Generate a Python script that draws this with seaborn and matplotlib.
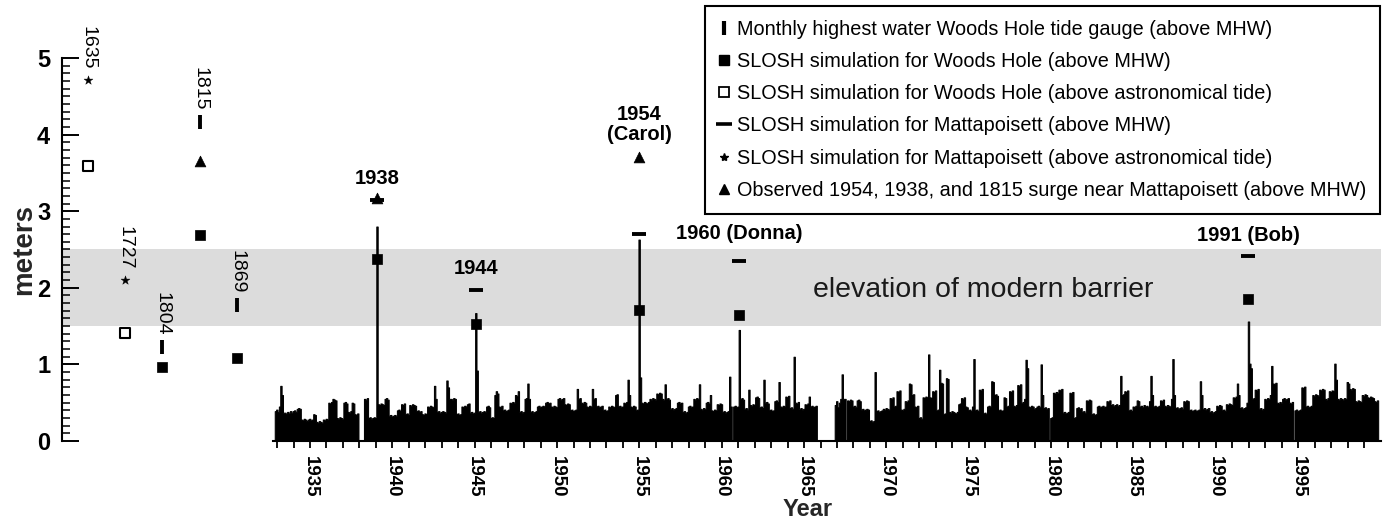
import numpy as np
import pandas as pd
import matplotlib
matplotlib.use("Agg")
import matplotlib.pyplot as plt
from matplotlib.lines import Line2D
from matplotlib.ticker import MultipleLocator, FixedLocator
import seaborn as sns

# ---------------- data ----------------
# Monthly highest water, Woods Hole tide gauge (m above MHW); 0 = missing month
# Jul 1932 - Dec 1939
hw_1930s = [0.39, 0.41, 0.38, 0.45, 0.72, 0.60, 0.37,
            0.37, 0.35, 0.38, 0.36, 0.39, 0.37,
            0.39, 0.40, 0.38, 0.42, 0.43, 0.42,
            0.28, 0.27, 0.29, 0.28, 0.26, 0.28, 0.29, 0.27, 0.28,
            0.35, 0.34, 0.25, 0.24, 0.26, 0.25, 0.24,
            0.28, 0.27, 0.29, 0.28, 0.50, 0.49, 0.51, 0.55, 0.54, 0.53,
            0.30, 0.29, 0.31, 0.30, 0.29, 0.50, 0.51, 0.49,
            0.38, 0.37, 0.39, 0.50, 0.49, 0.35, 0.34, 0.36,
            0.00, 0.00, 0.00, 0.00, 0.55, 0.54, 0.56,
            0.30, 0.31, 0.29, 0.30, 0.31, 0.30, 2.80,
            0.48, 0.47, 0.49, 0.48, 0.47, 0.55, 0.56, 0.54,
            0.33, 0.34, 0.32, 0.33, 0.34, 0.33, 0.40]
hw_1940s = [0.41, 0.39, 0.48, 0.47, 0.49, 0.35, 0.36, 0.34,
            0.47, 0.46, 0.48, 0.47, 0.46, 0.39, 0.40, 0.38, 0.39,
            0.35, 0.34, 0.36, 0.35, 0.45, 0.44, 0.46, 0.45, 0.44,
            0.72, 0.55, 0.38, 0.39, 0.37, 0.38, 0.39, 0.38, 0.37,
            0.79, 0.70, 0.55, 0.55, 0.54, 0.56, 0.55,
            0.35, 0.36, 0.34, 0.35, 0.45, 0.44, 0.46, 0.45,
            0.48, 0.49, 0.37, 0.38, 0.36, 0.37, 1.67, 0.92,
            0.38, 0.39, 0.37, 0.38, 0.39, 0.38, 0.45, 0.46, 0.44,
            0.30, 0.31, 0.30, 0.60, 0.65, 0.62, 0.45, 0.44, 0.46,
            0.40, 0.41, 0.39, 0.40, 0.41, 0.50, 0.49, 0.51, 0.50,
            0.60, 0.59, 0.65, 0.38, 0.39, 0.37, 0.38,
            0.55, 0.56, 0.75, 0.55, 0.38, 0.39, 0.37, 0.38, 0.39,
            0.45, 0.46, 0.44, 0.45, 0.46, 0.45, 0.50, 0.51, 0.49, 0.50,
            0.45, 0.44, 0.46, 0.45, 0.44, 0.55, 0.56, 0.54, 0.55]
hw_1950s = [0.56, 0.48, 0.47, 0.49, 0.48, 0.40, 0.41, 0.39, 0.40, 0.41,
            0.68, 0.55, 0.56, 0.50, 0.49, 0.51, 0.50, 0.45, 0.44, 0.46, 0.45,
            0.68, 0.55, 0.56, 0.45, 0.46, 0.44, 0.45, 0.46,
            0.40, 0.41, 0.39, 0.40, 0.45, 0.44, 0.46, 0.45, 0.44,
            0.60, 0.61, 0.45, 0.46, 0.44, 0.45, 0.50, 0.49, 0.51,
            0.80, 0.60, 0.45, 0.44, 0.46, 0.45, 0.40, 0.41, 2.63, 0.83,
            0.50, 0.49, 0.51, 0.50, 0.49, 0.51, 0.55, 0.54, 0.56, 0.55, 0.54,
            0.62, 0.61, 0.63, 0.62, 0.55, 0.54, 0.74, 0.55, 0.56, 0.54,
            0.42, 0.43, 0.41, 0.42, 0.43, 0.50, 0.51, 0.49, 0.50,
            0.38, 0.39, 0.37, 0.38, 0.45, 0.46, 0.44, 0.45,
            0.55, 0.54, 0.56, 0.55, 0.74, 0.42, 0.41, 0.43, 0.42,
            0.50, 0.51, 0.49, 0.60, 0.40, 0.39, 0.41, 0.40,
            0.48, 0.47, 0.49, 0.48, 0.38, 0.39, 0.37, 0.38]
hw_1960s = [0.39, 0.84, 0.45, 0.00, 0.45, 0.46, 0.44, 0.45, 1.45,
            0.55, 0.56, 0.54, 0.42, 0.43, 0.41, 0.67, 0.47, 0.46, 0.48, 0.47,
            0.57, 0.58, 0.56, 0.44, 0.45, 0.43, 0.80, 0.50, 0.51, 0.49,
            0.40, 0.41, 0.39, 0.40, 0.52, 0.53, 0.51, 0.77, 0.45, 0.44, 0.46, 0.45,
            0.58, 0.57, 0.59, 0.43, 0.44, 0.42, 1.10, 0.50, 0.49, 0.51,
            0.42, 0.43, 0.41, 0.42, 0.48, 0.47, 0.49, 0.58,
            0.45, 0.46, 0.44, 0.45, 0.46,
            0.00, 0.00, 0.00, 0.00, 0.00, 0.00, 0.00, 0.00, 0.00, 0.00, 0.00, 0.00, 0.00,
            0.47, 0.52, 0.44, 0.50, 0.55, 0.87, 0.55, 0.55, 0.00,
            0.53, 0.52, 0.54, 0.53, 0.45, 0.46, 0.44, 0.53, 0.54, 0.52,
            0.41, 0.42, 0.40, 0.41, 0.42, 0.41, 0.26, 0.27, 0.25, 0.26, 0.90,
            0.39, 0.40, 0.38, 0.39, 0.40, 0.42, 0.41, 0.43, 0.42, 0.41, 0.56, 0.55]
hw_1970s = [0.57, 0.45, 0.46, 0.65, 0.64, 0.66, 0.41, 0.40, 0.42, 0.52, 0.51, 0.53,
            0.75, 0.74, 0.60, 0.61, 0.45, 0.44, 0.46, 0.30, 0.31, 0.29,
            0.57, 0.56, 0.58, 0.57, 1.13, 0.57, 0.56, 0.65, 0.64, 0.66, 0.40, 0.41,
            0.93, 0.76, 0.75, 0.35, 0.36, 0.82, 0.81, 0.38, 0.37, 0.39, 0.38,
            0.37, 0.36, 0.38, 0.48, 0.49, 0.56, 0.55, 0.57, 0.45, 0.44,
            0.40, 0.41, 0.39, 0.45, 1.07, 0.40, 0.41, 0.39, 0.67, 0.66, 0.68,
            0.36, 0.37, 0.35, 0.45, 0.46, 0.44, 0.78, 0.77, 0.60, 0.61, 0.59,
            0.40, 0.41, 0.39, 0.40, 0.57, 0.56, 0.45, 0.46, 0.65, 0.64, 0.66,
            0.46, 0.45, 0.47, 0.73, 0.72, 0.74, 0.50, 0.51, 0.55, 1.06, 0.95,
            0.45, 0.44, 0.46, 0.45, 0.42, 0.43, 0.45, 0.46, 0.44, 1.00, 0.60,
            0.43, 0.44, 0.42, 0.43, 0.00, 0.30, 0.31, 0.63, 0.62, 0.64]
hw_1980s = [0.63, 0.67, 0.66, 0.68, 0.37, 0.38, 0.36, 0.37, 0.38, 0.63, 0.62, 0.64,
            0.30, 0.31, 0.43, 0.44, 0.42, 0.43, 0.38, 0.39, 0.37,
            0.53, 0.52, 0.54, 0.53, 0.35, 0.36, 0.34, 0.35,
            0.45, 0.46, 0.44, 0.45, 0.46, 0.44, 0.45, 0.52, 0.51, 0.53,
            0.47, 0.48, 0.46, 0.47, 0.48, 0.46, 0.47, 0.85, 0.60, 0.61,
            0.65, 0.64, 0.66, 0.40, 0.41, 0.39, 0.45, 0.44, 0.46, 0.53, 0.52,
            0.45, 0.46, 0.44, 0.47, 0.45, 0.46, 0.44, 0.52, 0.85, 0.60,
            0.45, 0.46, 0.44, 0.45, 0.46, 0.53, 0.52, 0.54,
            0.46, 0.45, 0.47, 0.46, 0.45, 0.55, 1.07, 0.60,
            0.43, 0.44, 0.42, 0.43, 0.44, 0.42, 0.52, 0.51, 0.53, 0.52,
            0.40, 0.41, 0.39, 0.40, 0.41, 0.39, 0.40, 0.41, 0.78, 0.60,
            0.42, 0.43, 0.41, 0.42, 0.43, 0.38, 0.39, 0.37, 0.38, 0.39,
            0.46, 0.45, 0.47, 0.46]
# Jan 1990 - Jun 1999
hw_1990s = [0.40, 0.41, 0.39, 0.48, 0.47, 0.49, 0.48, 0.47, 0.57, 0.56, 0.58,
            0.75, 0.60, 0.43, 0.44, 0.42, 0.43, 0.44, 0.50, 1.56, 1.01, 0.95,
            0.55, 0.56, 0.67, 0.66, 0.68, 0.42, 0.43, 0.41, 0.42,
            0.55, 0.54, 0.56, 0.55, 0.60, 0.98, 0.75, 0.74, 0.76,
            0.50, 0.49, 0.51, 0.50, 0.55, 0.56, 0.54, 0.55, 0.56,
            0.50, 0.49, 0.51, 0.00, 0.40, 0.41, 0.39, 0.40, 0.41,
            0.70, 0.69, 0.71, 0.45, 0.46, 0.44, 0.45, 0.46,
            0.60, 0.59, 0.61, 0.60, 0.59, 0.67, 0.66, 0.68, 0.67,
            0.55, 0.54, 0.56, 0.65, 0.64, 0.66, 0.65, 1.01, 0.80,
            0.55, 0.54, 0.56, 0.55, 0.54, 0.56, 0.55, 0.77, 0.75,
            0.68, 0.67, 0.69, 0.68, 0.52, 0.51, 0.53, 0.52, 0.51,
            0.60, 0.59, 0.61, 0.60, 0.57, 0.56, 0.58, 0.57, 0.56,
            0.52, 0.51, 0.53]

# 20th-century storms
storm_labels = ["1938", "1944", "1954\n(Carol)", "1960 (Donna)", "1991 (Bob)"]
storm_year = [1938, 1944, 1954, 1960, 1991]
storm_month = [9, 9, 8, 9, 8]
storm_slosh_wh_mhw = [2.37, 1.53, 1.71, 1.64, 1.85]
storm_slosh_mat_mhw = [3.15, 1.97, 2.70, 2.35, 2.42]
storm_observed = [3.17, np.nan, 3.71, np.nan, np.nan]

# historical storms
hist_labels = ["1635", "1727", "1804", "1815", "1869"]
hist_slosh_wh_mhw = [np.nan, np.nan, 0.97, 2.69, 1.08]
hist_slosh_wh_astro = [3.59, 1.41, np.nan, np.nan, np.nan]
hist_slosh_mat_mhw = [np.nan, np.nan, 1.23, 4.17, 1.78]
hist_slosh_mat_astro = [4.71, 2.10, np.nan, np.nan, np.nan]
hist_observed = [np.nan, np.nan, np.nan, 3.65, np.nan]

legend_labels = [
    "Monthly highest water Woods Hole tide gauge (above MHW)",
    "SLOSH simulation for Woods Hole (above MHW)",
    "SLOSH simulation for Woods Hole (above astronomical tide)",
    "SLOSH simulation for Mattapoisett (above MHW)",
    "SLOSH simulation for Mattapoisett (above astronomical tide)",
    "Observed 1954, 1938, and 1815 surge near Mattapoisett (above MHW)",
]

# ---------------- layout ----------------
sns.set_theme(style="ticks")
plt.rcParams["font.family"] = ["Liberation Sans", "DejaVu Sans"]
plt.rcParams["axes.edgecolor"] = "black"
plt.rcParams["xtick.color"] = "black"
plt.rcParams["ytick.color"] = "black"
plt.rcParams["text.color"] = "black"

W, H = 1391, 523
fig = plt.figure(figsize=(W / 100, H / 100), dpi=100)
ax = fig.add_axes([62 / W, 1 - 441 / H, (1381 - 62) / W, (441 - 58) / H])

first_month_x = 1932.9          # plotted centre of the Jul-1932 bar
hw = np.array(hw_1930s + hw_1940s + hw_1950s + hw_1960s + hw_1970s + hw_1980s + hw_1990s)
n = len(hw)
xc = first_month_x + np.arange(n) / 12.0
df = pd.DataFrame({"x": xc, "hw": hw})

ax.axhspan(1.5, 2.5, color="#dcdcdc", lw=0, zorder=0)
ax.text(1975.9, 1.97, "elevation of modern barrier", ha="center", va="center",
        fontsize=20.5, color="#1a1a1a", zorder=1)

sns.histplot(data=df, x="x", weights="hw", binwidth=1 / 12,
             binrange=(xc[0] - 1 / 24, xc[-1] + 1 / 24), element="step", fill=True,
             color="black", alpha=1, edgecolor="black", linewidth=0.75, ax=ax, zorder=2)

storm_idx = (np.array(storm_year) - 1932) * 12 + np.array(storm_month) - 7
storm_x = first_month_x + storm_idx / 12.0
hist_x = 1921.5 + 2.27 * np.arange(len(hist_labels))


def pts(x, y, marker, s, **kw):
    kw.setdefault("color", "black")
    sns.scatterplot(x=np.asarray(x, float), y=np.asarray(y, float), marker=marker, s=s,
                    ax=ax, legend=False, zorder=5, **kw)


# filled squares: SLOSH Woods Hole above MHW
pts(np.r_[storm_x, hist_x], np.r_[storm_slosh_wh_mhw, hist_slosh_wh_mhw], "s", 58,
    edgecolor="black", linewidth=0.5)
# open squares: SLOSH Woods Hole above astronomical tide
pts(hist_x, hist_slosh_wh_astro, "s", 42, facecolor="white", edgecolor="black", linewidth=1.5)
# dashes: SLOSH Mattapoisett above MHW
pts(storm_x, storm_slosh_mat_mhw, "_", 110, linewidth=2.8)
pts(hist_x, hist_slosh_mat_mhw, "|", 95, linewidth=2.8)
# stars: SLOSH Mattapoisett above astronomical tide
pts(hist_x, hist_slosh_mat_astro, "*", 45, edgecolor="black", linewidth=0.3)
# triangles: observed
pts(np.r_[storm_x, hist_x], np.r_[storm_observed, hist_observed], "^", 60,
    edgecolor="black", linewidth=0.5)

# storm labels
storm_top = np.nanmax(np.vstack([storm_slosh_mat_mhw, storm_observed]), axis=0)
storm_dy = [7, 9, 9, 13, 8]
for x, y, lab, dy in zip(storm_x, storm_top, storm_labels, storm_dy):
    ax.annotate(lab, (x, y), xytext=(0, dy), textcoords="offset points", ha="center",
                va="bottom", fontsize=14.5, fontweight="bold", linespacing=1.1,
                annotation_clip=False, zorder=6)

hist_top = np.nanmax(np.vstack([hist_slosh_mat_mhw, hist_slosh_mat_astro]), axis=0)
for x, y, lab in zip(hist_x, hist_top, hist_labels):
    ax.annotate(lab, (x, y), xytext=(0, 8), textcoords="offset points", ha="center",
                va="bottom", rotation=270, fontsize=14, annotation_clip=False, zorder=6)

# axes
ax.set_xlim(1919.94, 2000.03)
ax.set_ylim(0, 5)
sns.despine(ax=ax)
ax.spines["bottom"].set_bounds(1932.75, 2000.03)
ax.spines["bottom"].set_linewidth(1.5)
ax.spines["left"].set_linewidth(1.5)

ax.set_yticks(range(0, 6))
ax.yaxis.set_minor_locator(MultipleLocator(0.1))
ax.tick_params(axis="y", which="major", direction="in", length=12, width=1.4,
               labelsize=17, pad=8.5)
ax.tick_params(axis="y", which="minor", direction="in", length=6, width=1.1)
for t in ax.get_yticklabels():
    t.set_fontweight("bold")

major_years = list(range(1935, 2000, 5))
ax.set_xticks(major_years)
ax.set_xticklabels([str(y) for y in major_years], rotation=270, fontsize=13.5,
                   fontweight="bold")
ax.xaxis.set_minor_locator(FixedLocator(list(range(1933, 2000))))
ax.tick_params(axis="x", which="both", direction="out", length=5, width=1.3, pad=6)

ax.set_xlabel("Year", fontsize=17, fontweight="bold")
ax.xaxis.set_label_coords(0.565, -0.15)
ax.set_ylabel("meters", fontsize=20, fontweight="bold")
ax.yaxis.set_label_coords(-0.019, 0.5)
ax.grid(False)

# legend
handles = [
    Line2D([], [], ls="none", marker="|", ms=10, mew=3, color="black"),
    Line2D([], [], ls="none", marker="s", ms=7, color="black"),
    Line2D([], [], ls="none", marker="s", ms=6.5, mfc="white", mec="black", mew=1.3),
    Line2D([], [], ls="none", marker="_", ms=11, mew=2.6, color="black"),
    Line2D([], [], ls="none", marker="*", ms=6, color="black"),
    Line2D([], [], ls="none", marker="^", ms=7, color="black"),
]
leg = fig.legend(handles, legend_labels, loc="upper left",
                 bbox_to_anchor=(705 / W, 1 - 6 / H), frameon=True, fancybox=False,
                 edgecolor="black", framealpha=1, fontsize=14.3, handlelength=0.6,
                 handletextpad=0.35, labelspacing=0.67, borderpad=0.68, borderaxespad=0)
leg.get_frame().set_linewidth(1.5)

fig.savefig("out.png", dpi=100, facecolor="white")
